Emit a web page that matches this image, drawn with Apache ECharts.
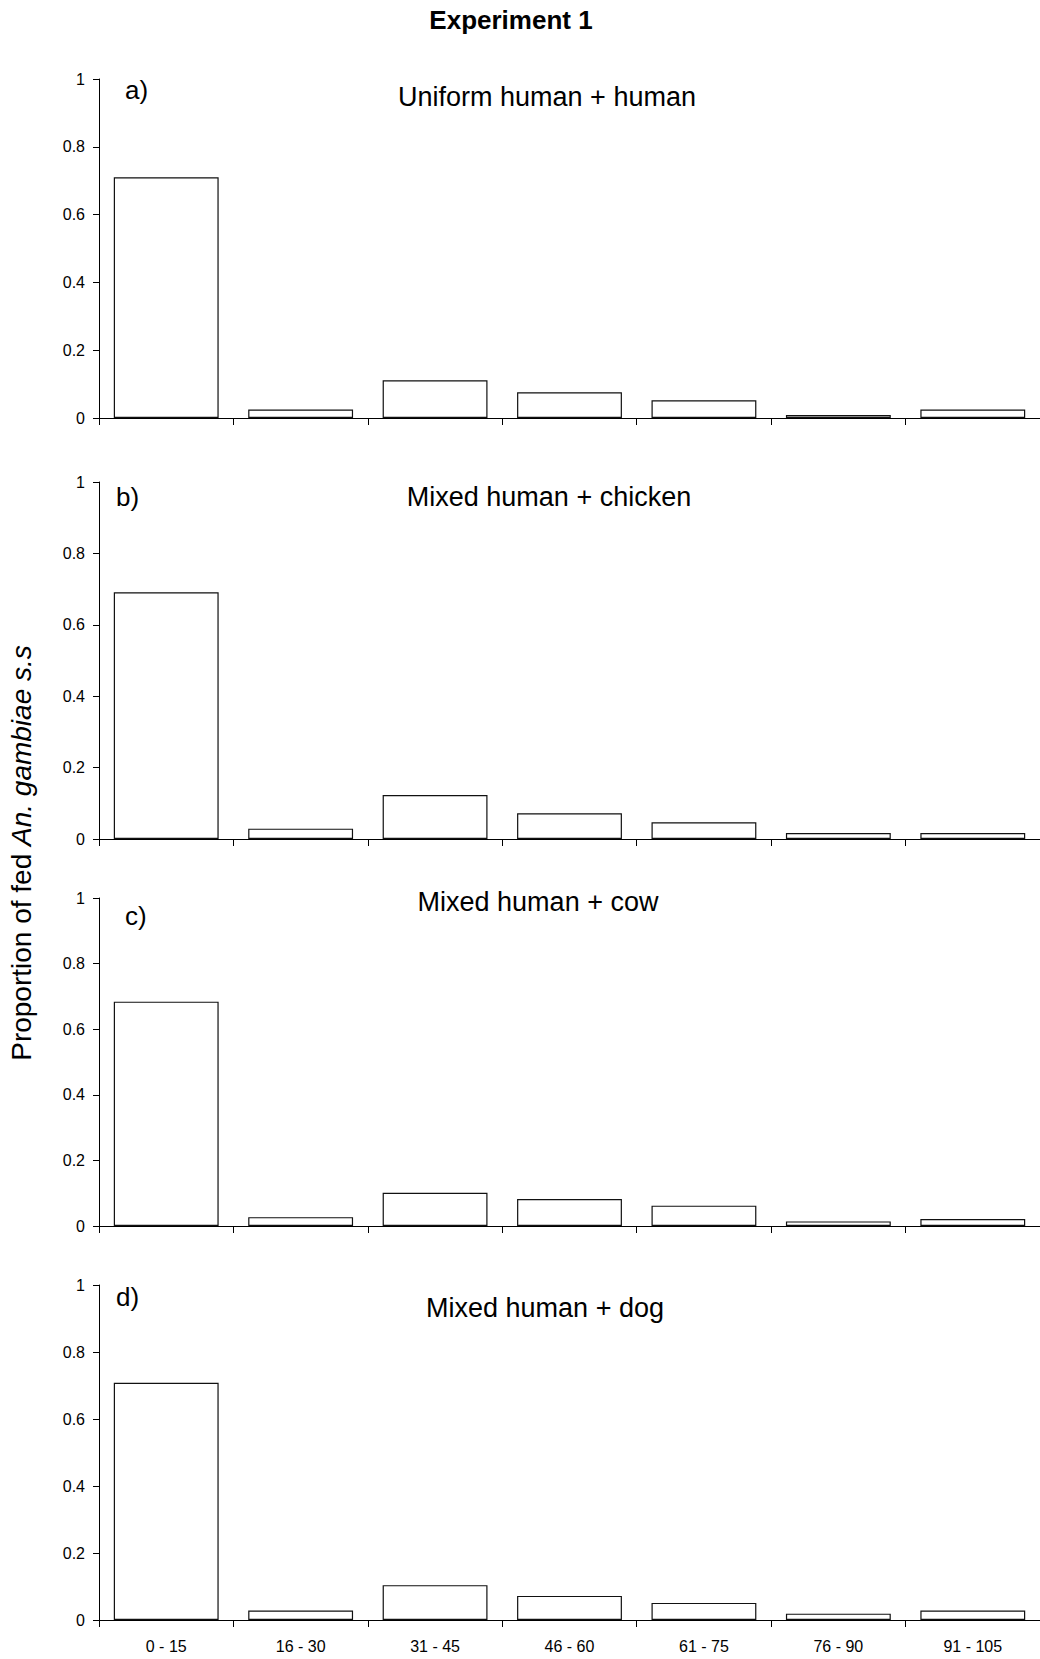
<!DOCTYPE html>
<html>
<head>
<meta charset="utf-8">
<script src="https://cdn.jsdelivr.net/npm/echarts@6/dist/echarts.min.js"></script>
<style>
html,body{margin:0;padding:0;background:#fff;}
#chart{width:1040px;height:1659px;}
</style>
</head>
<body>
<div id="chart"></div>
<script>
const categories = ['0 - 15', '16 - 30', '31 - 45', '46 - 60', '61 - 75', '76 - 90', '91 - 105'];
const uniformHumanHuman = [0.71, 0.025, 0.111, 0.076, 0.052, 0.009, 0.025];
const mixedHumanChicken = [0.691, 0.029, 0.123, 0.072, 0.047, 0.017, 0.017];
const mixedHumanCow = [0.684, 0.027, 0.101, 0.082, 0.062, 0.014, 0.021];
const mixedHumanDog = [0.708, 0.028, 0.104, 0.072, 0.051, 0.019, 0.028];
const panelLetters = ['a)', 'b)', 'c)', 'd)'];
const panelTitles = ['Uniform human + human', 'Mixed human + chicken', 'Mixed human + cow', 'Mixed human + dog'];
const chartTitle = 'Experiment 1';
const yTicks = [0, 0.2, 0.4, 0.6, 0.8, 1];

const seriesData = [uniformHumanHuman, mixedHumanChicken, mixedHumanCow, mixedHumanDog];
const FONT = 'Arial, "Liberation Sans", sans-serif';

const grids = [
  {left: 99, right: 0, top: 79, height: 339},
  {left: 99, right: 0, top: 482, height: 357},
  {left: 99, right: 0, top: 898, height: 328},
  {left: 99, right: 0, top: 1285, height: 335}
];
const letterPos = [[125, 90], [116, 497], [125, 916], [116, 1297]];
const subPos = [[547, 97], [549, 497], [538, 902], [545, 1308]];

const xAxes = grids.map((g, i) => ({
  type: 'category', gridIndex: i, data: categories, boundaryGap: true,
  axisLine: {lineStyle: {color: '#000', width: 1}},
  axisTick: {show: true, length: 7, lineStyle: {color: '#000'}},
  axisLabel: {show: i === 3, color: '#000', fontFamily: FONT, fontSize: 16, margin: 18}
}));
const yAxes = grids.map((g, i) => ({
  type: 'value', gridIndex: i, min: yTicks[0], max: yTicks[yTicks.length - 1], interval: 0.2,
  splitLine: {show: false},
  axisLine: {show: true, lineStyle: {color: '#000', width: 1}},
  axisTick: {show: true, length: 6, lineStyle: {color: '#000'}},
  axisLabel: {color: '#000', fontFamily: FONT, fontSize: 16, margin: 14}
}));
const series = seriesData.map((d, i) => ({
  type: 'bar', xAxisIndex: i, yAxisIndex: i, data: d, barCategoryGap: '22%',
  itemStyle: {color: '#fff', borderColor: '#111', borderWidth: 1.2},
  silent: true
}));

const graphics = [];
graphics.push({type: 'text', x: 511, y: 20, style: {text: chartTitle, font: 'bold 26px ' + FONT, fill: '#000', align: 'center', verticalAlign: 'middle'}});
panelLetters.forEach((t, i) => {
  graphics.push({type: 'text', x: letterPos[i][0], y: letterPos[i][1], style: {text: t, font: '26px ' + FONT, fill: '#000', align: 'left', verticalAlign: 'middle'}});
});
panelTitles.forEach((t, i) => {
  graphics.push({type: 'text', x: subPos[i][0], y: subPos[i][1], style: {text: t, font: '27px ' + FONT, fill: '#000', align: 'center', verticalAlign: 'middle'}});
});
graphics.push({
  type: 'text', x: 21, y: 853, rotation: Math.PI / 2,
  style: {
    text: '{n|Proportion of fed }{i|An. gambiae s.s}',
    align: 'center', verticalAlign: 'middle',
    rich: {
      n: {fontFamily: FONT, fontSize: 28, fill: '#000', color: '#000'},
      i: {fontFamily: FONT, fontSize: 28, fontStyle: 'italic', fill: '#000', color: '#000'}
    }
  }
});

const chart = echarts.init(document.getElementById('chart'), null, {renderer: 'svg'});
chart.setOption({
  backgroundColor: '#fff',
  animation: false,
  grid: grids,
  xAxis: xAxes,
  yAxis: yAxes,
  series: series,
  graphic: graphics
});
</script>
</body>
</html>
